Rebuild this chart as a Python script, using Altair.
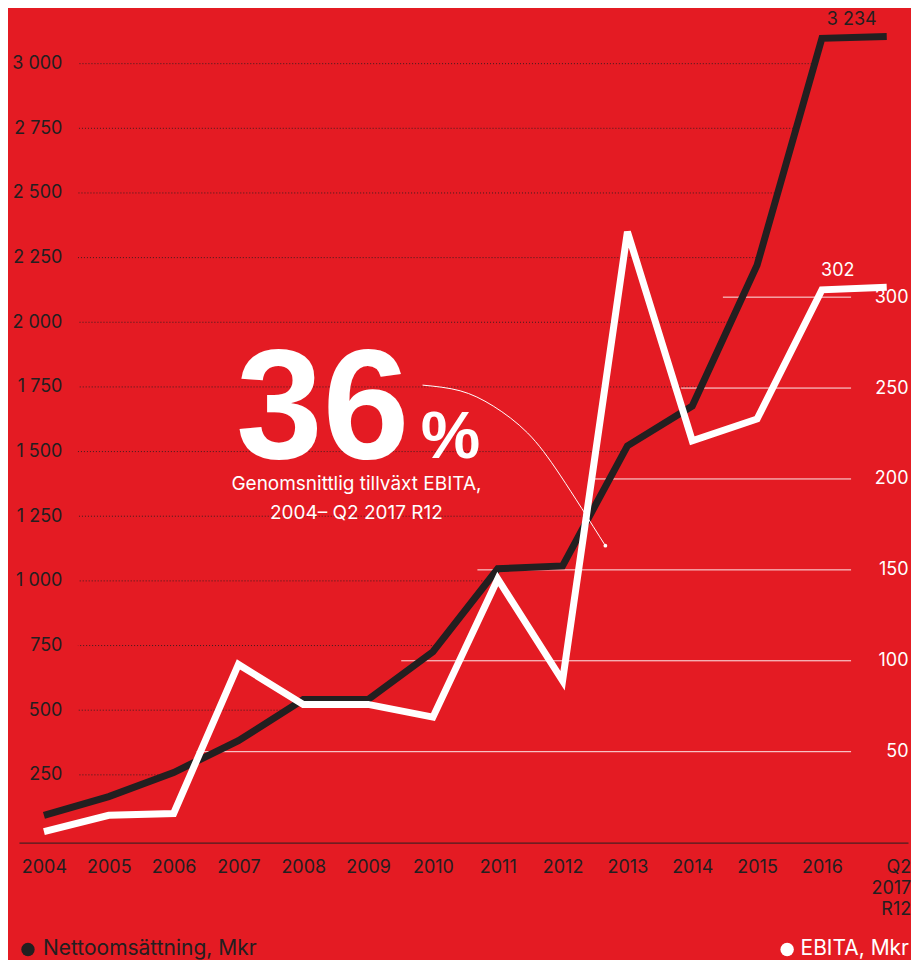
import altair as alt
import pandas as pd

# ---------------- data ----------------
CATEGORIES = ["2004", "2005", "2006", "2007", "2008", "2009", "2010",
              "2011", "2012", "2013", "2014", "2015", "2016", "Q2 2017 R12"]
NET_SALES = [93, 166, 259, 382, 541, 541, 726, 1047, 1058, 1522, 1676, 2221, 3098, 3105]
EBITA = [6, 15, 16, 98, 76, 76, 69, 145, 89, 336, 221, 233, 304, 305.5]
NET_SALES_LAST_LABEL = "3 234"
EBITA_LAST_LABEL = "302"
LEFT_TICKS = [250, 500, 750, 1000, 1250, 1500, 1750, 2000, 2250, 2500, 2750, 3000]
RIGHT_TICKS = [50, 100, 150, 200, 250, 300]
HEADLINE = "36"
HEADLINE_UNIT = "%"
SUBTITLE = ["Genomsnittlig tillväxt EBITA,", "2004– Q2 2017 R12"]
LEGEND_LEFT = "Nettoomsättning, Mkr"
LEGEND_RIGHT = "EBITA, Mkr"

# annotation anchors in data units (category index, net-sales units)
HEADLINE_AT = (4.3, 1475)
UNIT_AT = (6.27, 1475)
SUBTITLE_AT = [(4.82, 1375), (4.82, 1263)]
CONNECTOR = [(5.84, 1757), (6.42, 1735), (6.93, 1676), (7.46, 1572), (7.97, 1406), (8.66, 1136)]

# ---------------- style ----------------
RED = "#E41B23"
DARK = "#231F20"
WHITE = "#FFFFFF"
FONT = "Inter"
W, H = 890, 826
X_MIN, X_MAX = -0.385, 13.328
LEFT_MIN, LEFT_MAX = -12, 3178.4
RIGHT_MAX = 453.8

x_scale = alt.Scale(domain=[X_MIN, X_MAX], nice=False, zero=False)
left_scale = alt.Scale(domain=[LEFT_MIN, LEFT_MAX], nice=False, zero=False)
right_scale = alt.Scale(domain=[0, RIGHT_MAX], nice=False, zero=False)


def js_label(c):
    parts = c.split(" ")
    if len(parts) > 1:
        return "[" + ",".join("'%s'" % p for p in parts) + "]"
    return "'%s'" % c


label_expr = "[" + ",".join(js_label(c) for c in CATEGORIES) + "][datum.value]"
last_idx = len(CATEGORIES) - 1

x_axis = alt.Axis(
    values=list(range(len(CATEGORIES))),
    labelExpr=label_expr,
    labelAlign={"condition": {"test": f"datum.value == {last_idx}", "value": "right"}, "value": "center"},
    labelOffset={"condition": {"test": f"datum.value == {last_idx}", "value": 24}, "value": 0},
    labelLineHeight=21,
    labelBaseline="top",
    labelPadding=16,
    ticks=False,
    tickSize=0,
    domain=True,
    domainColor=DARK,
    domainWidth=1,
    grid=False,
    title=None,
    labelColor=DARK,
    labelFont=FONT,
    labelFontSize=18,
    labelOverlap=False,
    labelFlush=False,
)


def X(field):
    return alt.X(field, type="quantitative", scale=x_scale, axis=x_axis)


def YL(field, axis=None):
    return alt.Y(field, type="quantitative", scale=left_scale, axis=axis)


def YR(field, axis=None):
    return alt.Y(field, type="quantitative", scale=right_scale, axis=axis)


def crossing(level):
    for i in range(len(NET_SALES) - 1):
        a, b = NET_SALES[i], NET_SALES[i + 1]
        if a <= level < b:
            return i + (level - a) / (b - a)
    return len(NET_SALES) - 1


def right_to_left(v):
    return LEFT_MIN + v * (LEFT_MAX - LEFT_MIN) / RIGHT_MAX


# ---------------- tables ----------------
series = pd.DataFrame({"i": list(range(len(CATEGORIES))), "cat": CATEGORIES,
                       "sales": NET_SALES, "ebita": EBITA})
last = series.iloc[[-1]].assign(sales_label=NET_SALES_LAST_LABEL, ebita_label=EBITA_LAST_LABEL)
left_grid = pd.DataFrame({"level": LEFT_TICKS, "xe": [crossing(v) for v in LEFT_TICKS]})
right_grid = pd.DataFrame({"level": RIGHT_TICKS,
                           "xs": [crossing(right_to_left(v)) - 0.3 for v in RIGHT_TICKS]})
headline = pd.DataFrame({"x": [HEADLINE_AT[0]], "y": [HEADLINE_AT[1]], "t": [HEADLINE]})
unit = pd.DataFrame({"x": [UNIT_AT[0]], "y": [UNIT_AT[1]], "t": [HEADLINE_UNIT]})
subtitle = pd.DataFrame({"x": [p[0] for p in SUBTITLE_AT], "y": [p[1] for p in SUBTITLE_AT], "t": SUBTITLE})
connector = pd.DataFrame({"x": [p[0] for p in CONNECTOR], "y": [p[1] for p in CONNECTOR]})
conn_end = connector.iloc[[-1]]
one = pd.DataFrame({"a": [0]})

# ---------------- layers ----------------
left_axis = alt.Axis(orient="left", values=LEFT_TICKS, offset=-43, labelPadding=0,
                     ticks=False, tickSize=0, domain=False, grid=False, title=None,
                     labelAlign="right", labelColor=DARK, labelFont=FONT, labelFontSize=18,
                     labelExpr="replace(format(datum.value, ','), ',', ' ')")
right_axis = alt.Axis(orient="right", values=RIGHT_TICKS, offset=0, labelPadding=0,
                      ticks=False, tickSize=0, domain=False, grid=False, title=None,
                      labelAlign="right", labelColor=WHITE, labelFont=FONT, labelFontSize=18)

dotted = alt.Chart(left_grid).mark_rule(color=DARK, strokeWidth=1, strokeDash=[1, 2], opacity=0.85).encode(
    x=X("xe"), x2=alt.value(59), y=YL("level", left_axis))

white_grid = alt.Chart(right_grid).mark_rule(color=WHITE, strokeWidth=1, opacity=0.9).encode(
    x=X("xs"), x2=alt.value(833), y=YR("level", right_axis))

sales_line = alt.Chart(series).mark_line(color=DARK, strokeWidth=7, strokeJoin="miter", strokeCap="butt").encode(
    x=X("i"), y=YL("sales"))

ebita_line = alt.Chart(series).mark_line(color=WHITE, strokeWidth=7, strokeJoin="miter", strokeCap="butt").encode(
    x=X("i"), y=YR("ebita"))

sales_lbl = alt.Chart(last).mark_text(color=DARK, font=FONT, fontSize=18, dx=-35, dy=-17, baseline="middle").encode(
    x=X("i"), y=YL("sales"), text="sales_label:N")

ebita_lbl = alt.Chart(last).mark_text(color=WHITE, font=FONT, fontSize=18, dx=-49, dy=-16, baseline="middle").encode(
    x=X("i"), y=YR("ebita"), text="ebita_label:N")

head = alt.Chart(headline).mark_text(color=WHITE, font="Liberation Sans", fontWeight="bold", fontSize=156,
                                     align="center", baseline="alphabetic").encode(
    x=X("x"), y=YL("y"), text="t:N")

unit_t = alt.Chart(unit).mark_text(color=WHITE, font="Liberation Sans", fontWeight="bold", fontSize=67,
                                   align="center", baseline="alphabetic").encode(
    x=X("x"), y=YL("y"), text="t:N")

sub = alt.Chart(subtitle).mark_text(color=WHITE, font=FONT, fontSize=19, align="center", baseline="middle").encode(
    x=X("x"), y=YL("y"), text="t:N")

conn = alt.Chart(connector).mark_line(color=WHITE, strokeWidth=1, interpolate="natural").encode(
    x=X("x"), y=YL("y"))

conn_dot = alt.Chart(conn_end).mark_point(color=WHITE, filled=True, size=14, opacity=1).encode(
    x=X("x"), y=YL("y"))

leg_y = 933
leg_dot_l = alt.Chart(one).mark_point(color=DARK, filled=True, size=180, opacity=1).encode(
    x=alt.value(9), y=alt.value(leg_y))
leg_txt_l = alt.Chart(one).mark_text(color=DARK, font=FONT, fontSize=21, align="left", baseline="middle").encode(
    x=alt.value(24), y=alt.value(leg_y), text=alt.value(LEGEND_LEFT))
leg_dot_r = alt.Chart(one).mark_point(color=WHITE, filled=True, size=180, opacity=1).encode(
    x=alt.value(769), y=alt.value(leg_y))
leg_txt_r = alt.Chart(one).mark_text(color=WHITE, font=FONT, fontSize=21, align="right", baseline="middle").encode(
    x=alt.value(891), y=alt.value(leg_y), text=alt.value(LEGEND_RIGHT))

chart = alt.layer(
    dotted, white_grid, sales_line, conn, ebita_line, conn_dot, sales_lbl, ebita_lbl,
    head, unit_t, sub, leg_dot_l, leg_txt_l, leg_dot_r, leg_txt_r
).resolve_scale(y="independent").properties(
    width=W, height=H, background=RED,
    padding={"left": 3, "top": 2, "right": 0, "bottom": 0},
).configure_view(stroke=None)

chart.save("out.html", embed_options={"renderer": "svg", "actions": False})
